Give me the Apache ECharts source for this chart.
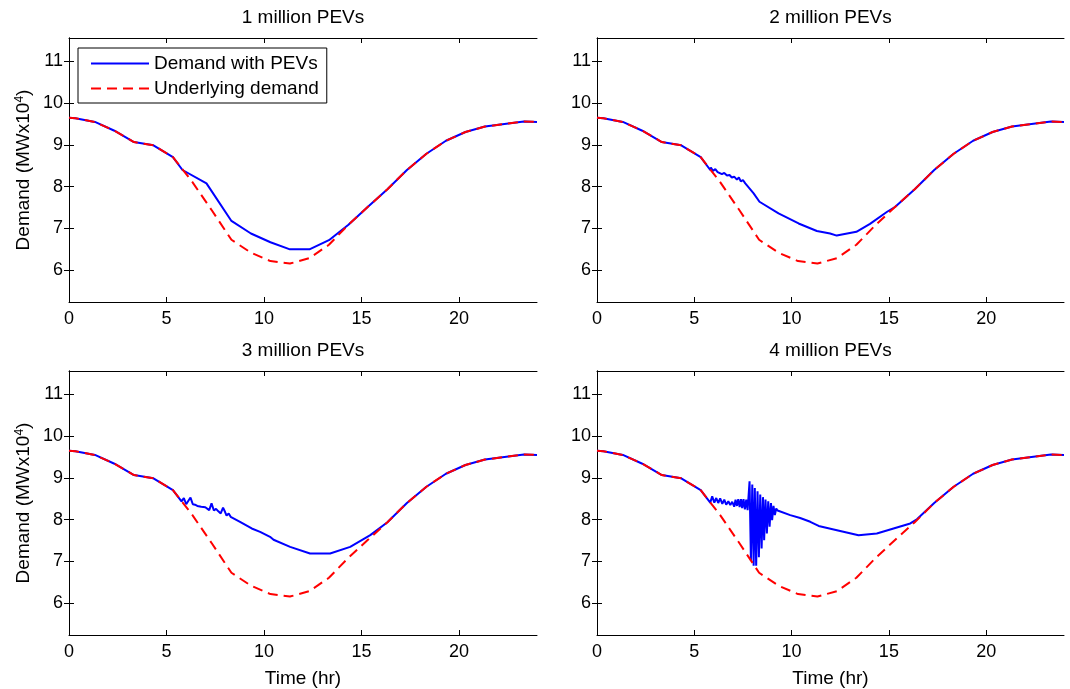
<!DOCTYPE html>
<html>
<head>
<meta charset="utf-8">
<script src="https://cdn.jsdelivr.net/npm/echarts@6/dist/echarts.min.js"></script>
<style>
html,body{margin:0;padding:0;background:#fff;}
#chart{width:1070px;height:689px;}
</style>
</head>
<body>
<div id="chart"></div>
<script>
// ---------- data ----------
const panelTitles = ['1 million PEVs', '2 million PEVs', '3 million PEVs', '4 million PEVs'];
const seriesNames = ['Demand with PEVs', 'Underlying demand'];
const xTicks = [0, 5, 10, 15, 20];
const yTicks = [6, 7, 8, 9, 10, 11];

// underlying demand [time (hr), demand (MW x 10^4)]
const underlying = [
  [0, 9.65], [0.33, 9.64], [1.33, 9.55], [2.33, 9.34], [3.33, 9.07], [4.33, 8.99],
  [5.33, 8.71], [6.33, 8.11], [7.33, 7.43], [8.33, 6.73], [9.33, 6.42], [10.33, 6.22],
  [11.33, 6.16], [12.33, 6.29], [13.33, 6.61], [14.33, 7.09], [15.33, 7.52], [16.33, 7.94],
  [17.33, 8.40], [18.33, 8.79], [19.33, 9.10], [20.33, 9.31], [21.33, 9.44], [22.33, 9.50],
  [23.33, 9.56], [24, 9.55]
];

// demand with PEVs: portion that differs from underlying demand
const pev1 = [
  [5.82, 8.40], [7.05, 8.08], [8.33, 7.18], [9.33, 6.88], [10.33, 6.67], [11.33, 6.50],
  [12.33, 6.50], [13.33, 6.72]
];
const pev2 = [
  [5.82, 8.40], [5.85, 8.46], [5.96, 8.38], [6.08, 8.42], [6.20, 8.35], [6.30, 8.38],
  [6.42, 8.30], [6.54, 8.33], [6.68, 8.27], [6.81, 8.28], [6.93, 8.22], [7.05, 8.24],
  [7.19, 8.17], [7.29, 8.22], [7.39, 8.13], [7.50, 8.16], [7.62, 8.08], [7.70, 8.09],
  [8.05, 7.84], [8.35, 7.64], [9.33, 7.36], [10.36, 7.12], [11.30, 6.94], [11.98, 6.88],
  [12.32, 6.83], [13.33, 6.92], [14.03, 7.11], [14.91, 7.40]
];
const pev3 = [
  [5.77, 8.44], [5.89, 8.52], [6.01, 8.37], [6.13, 8.46], [6.23, 8.53], [6.35, 8.37],
  [6.46, 8.36], [6.58, 8.33], [6.68, 8.36], [6.78, 8.31], [6.88, 8.35], [6.99, 8.30],
  [7.09, 8.27], [7.19, 8.23], [7.31, 8.39], [7.43, 8.22], [7.54, 8.26], [7.66, 8.20],
  [7.78, 8.15], [7.90, 8.29], [8.00, 8.19], [8.08, 8.10], [8.19, 8.15], [8.29, 8.07],
  [8.77, 7.95], [9.37, 7.79], [9.80, 7.71], [10.31, 7.59], [10.49, 7.52], [11.34, 7.35],
  [12.36, 7.19], [13.39, 7.19], [14.42, 7.35], [15.45, 7.63]
];
const pev4 = [
  [5.82, 8.41], [5.92, 8.56], [6.03, 8.41], [6.13, 8.52], [6.23, 8.40], [6.33, 8.51],
  [6.44, 8.38], [6.54, 8.48], [6.64, 8.36], [6.75, 8.44], [6.85, 8.35], [6.95, 8.43],
  [7.05, 8.31], [7.12, 8.48], [7.19, 8.33], [7.26, 8.49], [7.33, 8.30], [7.40, 8.49],
  [7.46, 8.28], [7.53, 8.49], [7.60, 8.25], [7.67, 8.48], [7.74, 8.23], [7.84, 8.92],
  [7.91, 7.02], [7.98, 8.84], [8.05, 6.90], [8.11, 8.76], [8.18, 6.90], [8.25, 8.68],
  [8.32, 7.10], [8.39, 8.60], [8.46, 7.31], [8.53, 8.54], [8.59, 7.51], [8.66, 8.48],
  [8.73, 7.67], [8.80, 8.44], [8.87, 7.83], [8.94, 8.40], [9.00, 7.99], [9.07, 8.33],
  [9.14, 8.11], [9.21, 8.27], [9.28, 8.22], [9.33, 8.23], [9.93, 8.11], [10.44, 8.04],
  [10.96, 7.95], [11.39, 7.85], [12.33, 7.75], [13.44, 7.63], [14.38, 7.67], [15.24, 7.79],
  [16.10, 7.91], [16.44, 8.01]
];
const pevWindows = [pev1, pev2, pev3, pev4];

// ---------- build ----------
function withPev(win) {
  const s = win[0][0], e = win[win.length - 1][0];
  return underlying.filter(p => p[0] < s).concat(win, underlying.filter(p => p[0] > e));
}

const grids = [
  {left: 69, top: 38, width: 468, height: 264},
  {left: 597, top: 38, width: 467, height: 264},
  {left: 69, top: 371, width: 468, height: 264},
  {left: 597, top: 371, width: 467, height: 264}
];
const YMIN = 5.24, YMAX = 11.56;
const FONT = 'Liberation Sans, Arial, Helvetica, sans-serif';

const xAxis = [], yAxis = [], series = [], title = [];
grids.forEach((g, i) => {
  const bottomRow = i >= 2, leftCol = i % 2 === 0;
  xAxis.push({
    type: 'value', gridIndex: i, min: 0, max: 24, position: 'bottom',
    axisLine: {show: true, lineStyle: {color: '#000', width: 1}},
    axisTick: {show: true, inside: true, length: 5, customValues: xTicks, lineStyle: {color: '#000'}},
    axisLabel: {show: true, customValues: xTicks, margin: 8, color: '#000', fontSize: 18, fontFamily: FONT},
    splitLine: {show: false},
    name: bottomRow ? 'Time (hr)' : '', nameLocation: 'middle', nameGap: 34,
    nameTextStyle: {color: '#000', fontSize: 19, fontFamily: FONT}
  });
  xAxis.push({
    type: 'value', gridIndex: i, min: 0, max: 24, position: 'top',
    axisLine: {show: true, lineStyle: {color: '#000', width: 1}},
    axisTick: {show: true, inside: true, length: 5, customValues: xTicks, lineStyle: {color: '#000'}},
    axisLabel: {show: false}, splitLine: {show: false}
  });
  yAxis.push({
    type: 'value', gridIndex: i, min: YMIN, max: YMAX, position: 'left',
    axisLine: {show: true, lineStyle: {color: '#000', width: 1}},
    axisTick: {show: true, inside: true, length: 5, customValues: yTicks, lineStyle: {color: '#000'}},
    axisLabel: {show: true, customValues: yTicks, margin: 6, color: '#000', fontSize: 18, fontFamily: FONT},
    splitLine: {show: false},
    name: leftCol ? 'Demand (MWx10{sup|4})' : '', nameLocation: 'middle', nameGap: 36, nameRotate: 90,
    nameTextStyle: {color: '#000', fontSize: 19, fontFamily: FONT,
      rich: {sup: {fontSize: 12, verticalAlign: 'top', color: '#000', fontFamily: FONT}}}
  });
  yAxis.push({
    type: 'value', gridIndex: i, min: YMIN, max: YMAX, position: 'right',
    axisLine: {show: true, lineStyle: {color: '#000', width: 1}},
    axisTick: {show: true, inside: true, length: 5, customValues: yTicks, lineStyle: {color: '#000'}},
    axisLabel: {show: false}, splitLine: {show: false}
  });
  series.push({
    name: seriesNames[0], type: 'line', xAxisIndex: 2 * i, yAxisIndex: 2 * i,
    data: withPev(pevWindows[i]), symbol: 'none', silent: true, animation: false,
    lineStyle: {color: '#0000ff', width: 2, type: 'solid'}, itemStyle: {color: '#0000ff'}
  });
  series.push({
    name: seriesNames[1], type: 'line', xAxisIndex: 2 * i, yAxisIndex: 2 * i,
    data: underlying, symbol: 'none', silent: true, animation: false,
    lineStyle: {color: '#ff0000', width: 2, type: [10, 6]}, itemStyle: {color: '#ff0000'}
  });
  title.push({
    text: panelTitles[i], left: g.left + g.width / 2, top: bottomRow ? 341 : 8,
    textAlign: 'center', padding: 0,
    textStyle: {color: '#000', fontSize: 19, fontWeight: 'normal', fontFamily: FONT}
  });
});

const chart = echarts.init(document.getElementById('chart'), null, {renderer: 'canvas'});
chart.setOption({
  backgroundColor: '#fff',
  animation: false,
  title: title,
  grid: grids,
  xAxis: xAxis,
  yAxis: yAxis,
  legend: {
    data: seriesNames, orient: 'vertical', left: 78, top: 48,
    itemWidth: 58, itemHeight: 18, itemGap: 6, padding: [6, 8, 5, 12],
    borderColor: '#000', borderWidth: 1, backgroundColor: '#fff',
    itemStyle: {opacity: 0, color: 'rgba(0,0,0,0)', borderWidth: 0},
    textStyle: {color: '#000', fontSize: 19, fontFamily: FONT},
    selectedMode: false
  },
  series: series
});
</script>
</body>
</html>
